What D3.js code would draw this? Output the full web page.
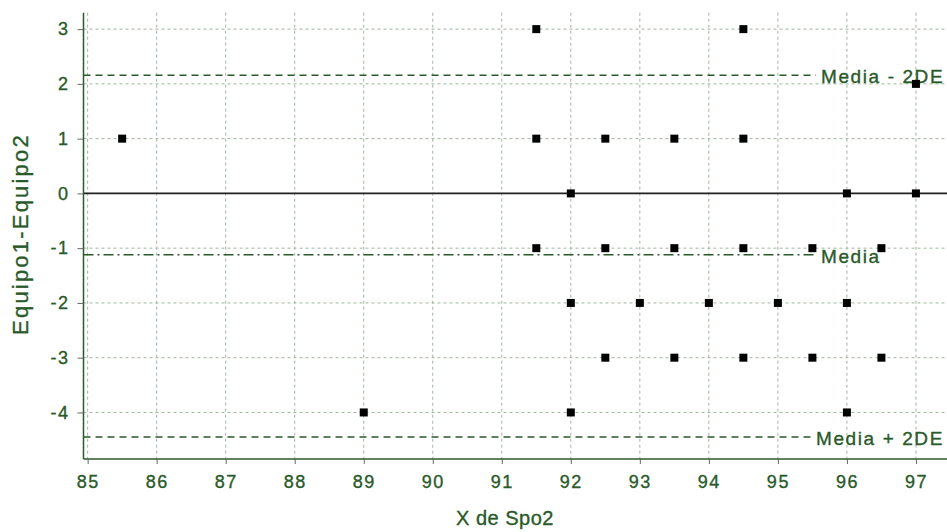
<!DOCTYPE html>
<html>
<head>
<meta charset="utf-8">
<script src="https://cdn.jsdelivr.net/npm/d3@7"></script>
<style>
  body { margin: 0; background: #fff; }
  svg { display: block; font-family: 'Liberation Sans', Arial, sans-serif; }
  svg text { stroke: #2a5a2a; stroke-width: 0.35px; }
</style>
</head>
<body>
<div id="graf"></div>
<script>
// datos
const xs = [85.5, 89, 91.5, 91.5, 91.5, 92, 92, 92, 92.5, 92.5, 92.5, 93, 93.5, 93.5, 93.5, 94,
  94.5, 94.5, 94.5, 94.5, 95, 95.5, 95.5, 96, 96, 96, 96.5, 96.5, 97, 97]
const ys = [1, -4, 3, 1, -1, 0, -2, -4, 1, -1, -3, -2, 1, -1, -3, -2,
  3, 1, -1, -3, -2, -1, -3, 0, -2, -4, -1, -3, 2, 0]
const xTicks = [85, 86, 87, 88, 89, 90, 91, 92, 93, 94, 95, 96, 97]
const yTicks = [3, 2, 1, 0, -1, -2, -3, -4]
const refNames = ['Media - 2DE', 'Media', 'Media + 2DE']
const refValues = [2.16, -1.12, -4.45]

const anchoTotal = 947
const altoTotal = 532
const verde = '#2a5a2a'
const gris = '#9fb59f'

const svg = d3.select('#graf').append('svg')
  .attr('width', anchoTotal).attr('height', altoTotal)

const x = d3.scaleLinear().domain([84.94, 97.45]).range([83.5, 947])
const y = d3.scaleLinear().domain([-4.85, 3.3]).range([459, 12.7])

// rejilla
svg.append('g').selectAll('line').data(xTicks).join('line')
  .attr('x1', (d) => x(d)).attr('x2', (d) => x(d))
  .attr('y1', y(3.3)).attr('y2', y(-4.85))
  .attr('stroke', gris).attr('stroke-dasharray', '3,3')
svg.append('g').selectAll('line').data(yTicks).join('line')
  .attr('x1', x(84.94)).attr('x2', anchoTotal)
  .attr('y1', (d) => y(d)).attr('y2', (d) => y(d))
  .attr('stroke', gris).attr('stroke-dasharray', '3,3')

// linea cero
svg.append('line')
  .attr('x1', x(84.94)).attr('x2', anchoTotal)
  .attr('y1', y(0)).attr('y2', y(0))
  .attr('stroke', '#222').attr('stroke-width', 1.6)

// lineas de referencia
const dashes = ['7,5', '10,4,2,4', '7,5']
refValues.forEach((v, i) => {
  svg.append('line')
    .attr('x1', x(84.94)).attr('x2', i === 2 ? 812 : 816)
    .attr('y1', y(v)).attr('y2', y(v))
    .attr('stroke', verde).attr('stroke-width', 1.5)
    .attr('stroke-dasharray', dashes[i])
})

// ejes
const fmt = (d) => String(d)
const xAxis = svg.append('g').attr('transform', `translate(0, ${y(-4.85)})`)
  .call(d3.axisBottom(x).tickValues(xTicks).tickSize(5).tickPadding(11).tickFormat(fmt))
const yAxis = svg.append('g').attr('transform', `translate(${x(84.94)}, 0)`)
  .call(d3.axisLeft(y).tickValues(yTicks).tickSize(6).tickPadding(8).tickFormat(fmt))
;[xAxis, yAxis].forEach((a) => {
  a.select('.domain').attr('stroke', verde).attr('stroke-width', 1.5)
  a.selectAll('.tick line').attr('stroke', '#666')
  a.selectAll('.tick text').attr('fill', verde).style('font-size', '18px')
    .style('letter-spacing', '1.5px')
    .style('font-family', "'Liberation Sans', Arial, sans-serif")
})
yAxis.select('.domain').attr('d', `M0,${y(3.3)}V${y(-4.85)}`)
xAxis.select('.domain').attr('d', `M${x(84.94)},0H${anchoTotal}`)

// etiquetas de referencia
svg.append('g').selectAll('text').data(refNames).join('text')
  .attr('x', (d, i) => (i === 2 ? 816 : 821))
  .attr('y', (d, i) => y(refValues[i]) + 8)
  .attr('fill', verde).style('font-size', '19px').style('letter-spacing', '1.6px')
  .text((d) => d)

// puntos
svg.append('g').selectAll('rect').data(xs).join('rect')
  .attr('x', (d) => x(d) - 4).attr('y', (d, i) => y(ys[i]) - 4)
  .attr('width', 8).attr('height', 8).attr('fill', '#000')

// titulos de ejes
svg.append('text').attr('x', 505).attr('y', 525).attr('text-anchor', 'middle')
  .attr('fill', verde).style('font-size', '20px').style('letter-spacing', '0.5px')
  .text('X de Spo2')
svg.append('text').attr('transform', 'translate(28, 234) rotate(-90)')
  .attr('text-anchor', 'middle').attr('fill', verde).style('font-size', '22px')
  .style('letter-spacing', '2.2px')
  .text('Equipo1-Equipo2')
</script>
</body>
</html>
